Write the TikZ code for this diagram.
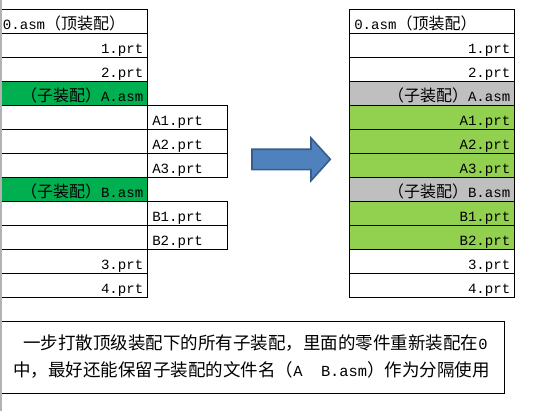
\documentclass[tikz,border=0pt]{standalone}
\usepackage{fontspec}
\setmainfont{Liberation Mono}[Scale=0.88]
\newfontfamily\cjk{Noto Sans CJK SC}
\newcommand\C[1]{{\cjk #1}}
\definecolor{darkgreen}{HTML}{00B050}
\definecolor{lightgreen}{HTML}{92D050}
\definecolor{cellgray}{HTML}{BFBFBF}
\definecolor{arrowfill}{HTML}{4F81BD}
\definecolor{arrowline}{HTML}{385D8A}
\tikzset{
  cell/.style={draw=black, line width=0.9pt, anchor=north west, minimum height=24pt,
    inner ysep=0pt, inner xsep=4.5pt, text height=17pt, text depth=1pt,
    font=\fontsize{16}{18}\selectfont, text=black},
  lcol/.style={cell, text width=140.3pt},
  ccol/.style={cell, text width=71pt, align=left},
  rcol/.style={cell, text width=156pt},
  tr/.style={align=right},
  tl/.style={align=left},
  notetext/.style={font=\fontsize{17.5}{20}\selectfont, text=black, inner sep=0pt},
  blockarrow/.style={fill=arrowfill, draw=arrowline, line width=1.6pt, line join=miter}
}
\begin{document}
\begin{tikzpicture}[x=1pt, y=-1pt]
\useasboundingbox (0,0) rectangle (533,411);
% left table, first column
\node[lcol, tl] (L0) at (-2,9.3) {0.asm\C{（顶装配）}};
\node[lcol, tr] (L1) at (-2,33.3) {1.prt};
\node[lcol, tr] (L2) at (-2,57.3) {2.prt};
\node[lcol, tr, fill=darkgreen] (L3) at (-2,81.3) {\C{（子装配）}A.asm};
\node[lcol, tr] (L4) at (-2,105.3) {};
\node[lcol, tr] (L5) at (-2,129.3) {};
\node[lcol, tr] (L6) at (-2,153.3) {};
\node[lcol, tr, fill=darkgreen] (L7) at (-2,177.3) {\C{（子装配）}B.asm};
\node[lcol, tr] (L8) at (-2,201.3) {};
\node[lcol, tr] (L9) at (-2,225.3) {};
\node[lcol, tr] (L10) at (-2,249.3) {3.prt};
\node[lcol, tr] (L11) at (-2,273.3) {4.prt};
% left table, second column
\node[ccol] (LA1) at (147.3,105.3) {A1.prt};
\node[ccol] (LA2) at (147.3,129.3) {A2.prt};
\node[ccol] (LA3) at (147.3,153.3) {A3.prt};
\node[ccol] (LB1) at (147.3,201.3) {B1.prt};
\node[ccol] (LB2) at (147.3,225.3) {B2.prt};
% right table
\node[rcol, tl] (R0) at (349.3,9.3) {0.asm\C{（顶装配）}};
\node[rcol, tr] (R1) at (349.3,33.3) {1.prt};
\node[rcol, tr] (R2) at (349.3,57.3) {2.prt};
\node[rcol, tr, fill=cellgray] (R3) at (349.3,81.3) {\C{（子装配）}A.asm};
\node[rcol, tr, fill=lightgreen] (R4) at (349.3,105.3) {A1.prt};
\node[rcol, tr, fill=lightgreen] (R5) at (349.3,129.3) {A2.prt};
\node[rcol, tr, fill=lightgreen] (R6) at (349.3,153.3) {A3.prt};
\node[rcol, tr, fill=cellgray] (R7) at (349.3,177.3) {\C{（子装配）}B.asm};
\node[rcol, tr, fill=lightgreen] (R8) at (349.3,201.3) {B1.prt};
\node[rcol, tr, fill=lightgreen] (R9) at (349.3,225.3) {B2.prt};
\node[rcol, tr] (R10) at (349.3,249.3) {3.prt};
\node[rcol, tr] (R11) at (349.3,273.3) {4.prt};
% block arrow
\draw[blockarrow] (252,149.3) -- (311,149.3) -- (311,138) -- (330.3,159.3)
  -- (311,180.7) -- (311,169.7) -- (252,169.7) -- cycle;
% note box
\node[draw=black, line width=0.9pt, anchor=north west, minimum width=506pt,
  minimum height=71.7pt, inner sep=0pt] (note) at (-2,321) {};
\node[notetext] (line1) at (255.5,343) {\C{一步打散顶级装配下的所有子装配，里面的零件重新装配在}0};
\node[notetext] (line2) at (251.5,370) {\C{中，最好还能保留子装配的文件名（}A\ \ B.asm\C{）作为分隔使用}};
% left gray edge
\draw[black!30, line width=1.5pt] (0.75,0) -- (0.75,411);
\end{tikzpicture}
\end{document}
